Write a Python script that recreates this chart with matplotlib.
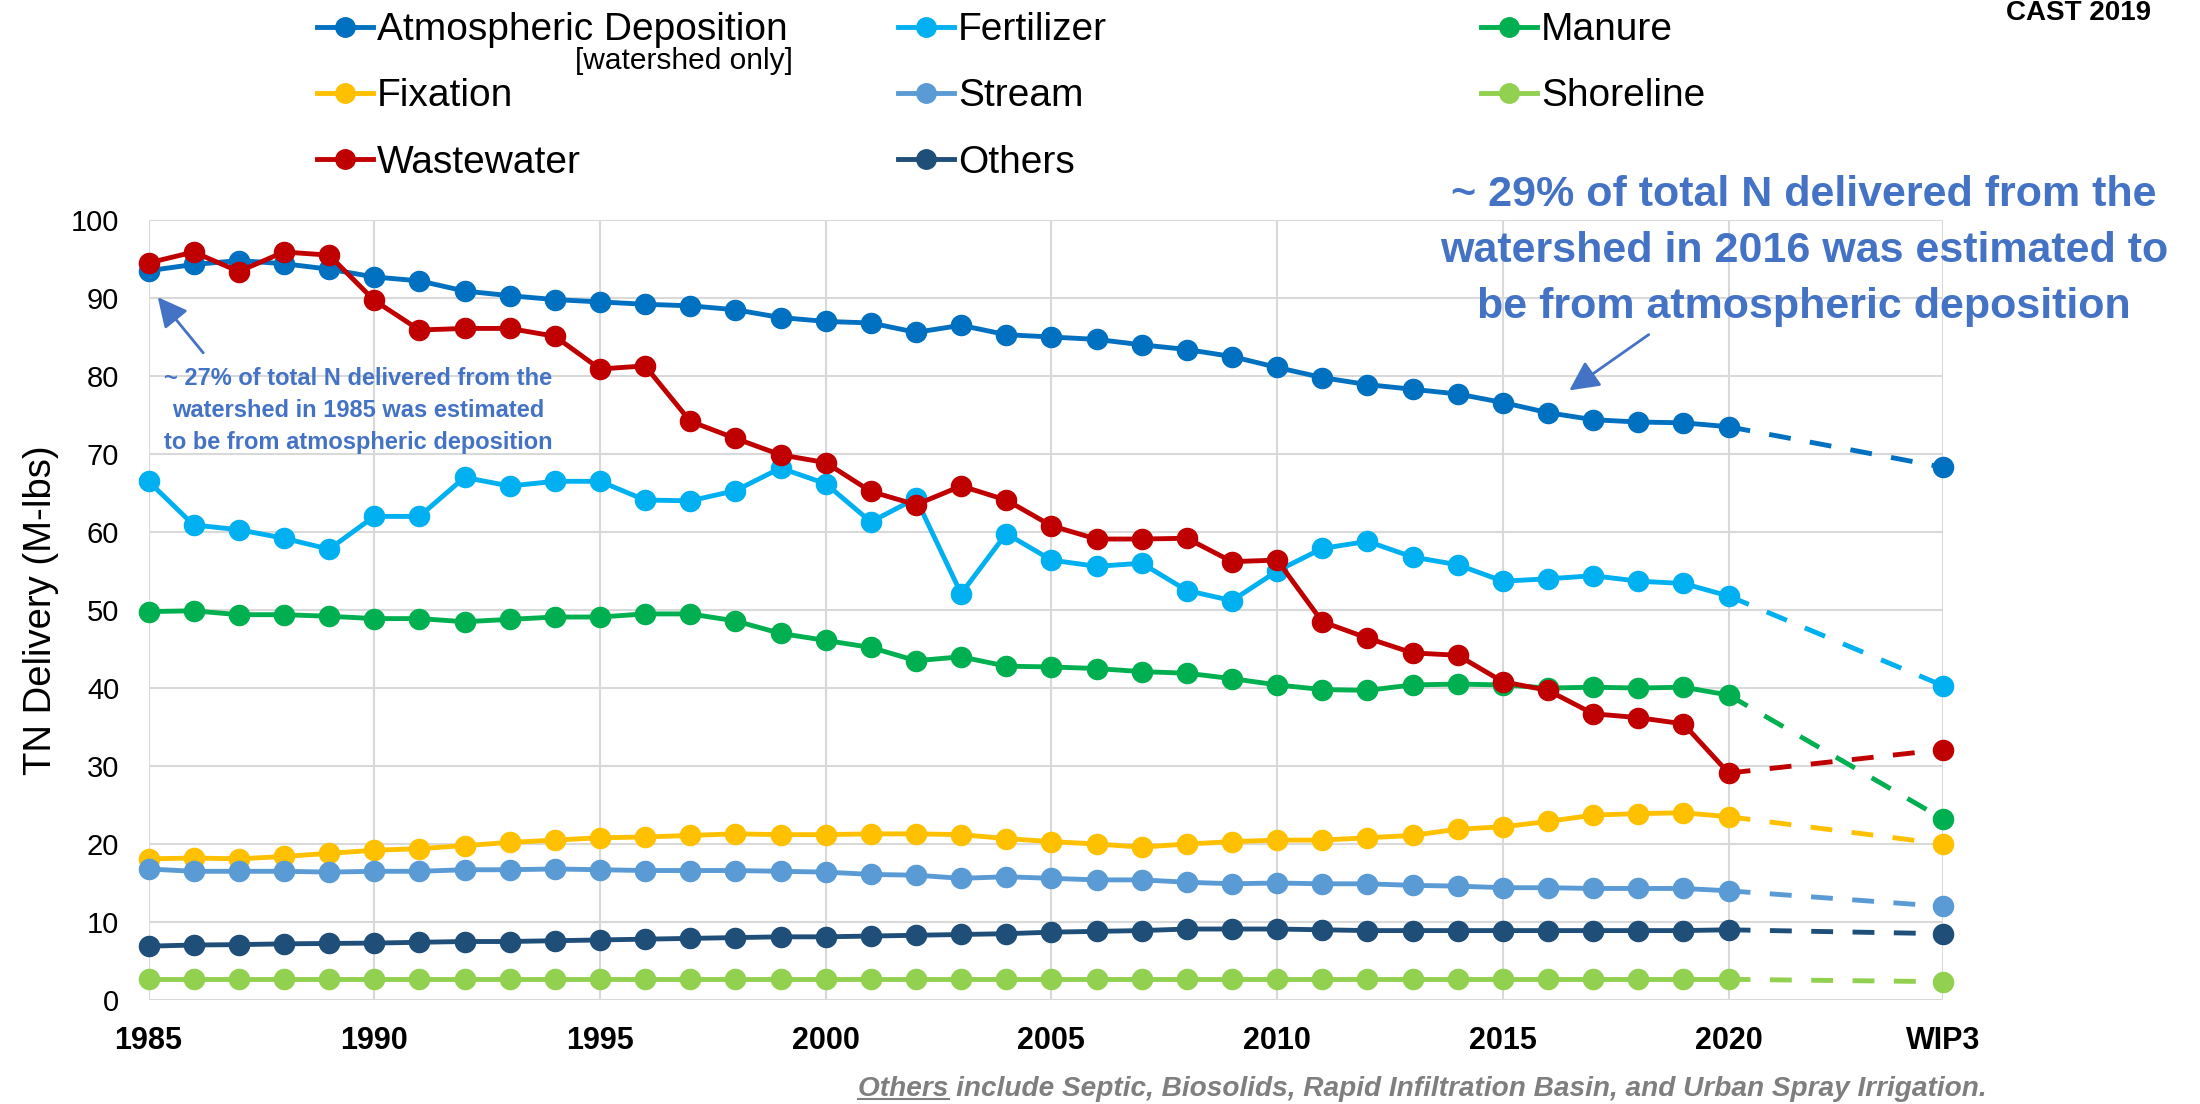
import matplotlib
matplotlib.use('Agg')
import matplotlib.pyplot as plt
from matplotlib.lines import Line2D

plt.rcParams['font.family'] = ['Liberation Sans', 'DejaVu Sans']

# ---- data (M-lbs), 1985-2020 plus the WIP3 target ----
years = list(range(1985, 2021))
WIP3_POS = 2024.75

atmos = [93.5, 94.3, 94.8, 94.4, 93.7, 92.7, 92.2, 90.9, 90.3, 89.8,
         89.5, 89.2, 89.0, 88.5, 87.5, 87.0, 86.8, 85.6, 86.5, 85.3,
         85.0, 84.7, 84.0, 83.4, 82.5, 81.1, 79.8, 78.9, 78.3, 77.7,
         76.6, 75.3, 74.4, 74.1, 74.0, 73.5]
fert = [66.5, 60.9, 60.3, 59.2, 57.8, 62.0, 62.0, 67.0, 65.9, 66.5,
        66.5, 64.1, 64.0, 65.3, 68.2, 66.2, 61.3, 64.3, 52.1, 59.8,
        56.4, 55.6, 56.0, 52.5, 51.2, 55.0, 57.9, 58.8, 56.8, 55.8,
        53.7, 54.0, 54.4, 53.7, 53.4, 51.8]
manure = [49.8, 49.9, 49.4, 49.4, 49.2, 48.9, 48.9, 48.5, 48.8, 49.1,
          49.1, 49.5, 49.5, 48.6, 47.0, 46.1, 45.2, 43.5, 44.0, 42.8,
          42.7, 42.5, 42.1, 41.9, 41.2, 40.4, 39.8, 39.7, 40.4, 40.5,
          40.4, 40.0, 40.1, 40.0, 40.1, 39.1]
fixation = [18.1, 18.2, 18.1, 18.4, 18.8, 19.2, 19.4, 19.8, 20.2, 20.5,
            20.8, 20.9, 21.1, 21.3, 21.2, 21.2, 21.3, 21.3, 21.2, 20.7,
            20.3, 20.0, 19.6, 20.0, 20.3, 20.5, 20.5, 20.8, 21.1, 21.9,
            22.2, 22.9, 23.7, 23.9, 24.0, 23.5]
stream = [16.8, 16.5, 16.5, 16.5, 16.4, 16.5, 16.5, 16.7, 16.7, 16.8,
          16.7, 16.6, 16.6, 16.6, 16.5, 16.4, 16.1, 16.0, 15.6, 15.8,
          15.6, 15.4, 15.4, 15.1, 14.9, 15.0, 14.9, 14.9, 14.7, 14.6,
          14.4, 14.4, 14.3, 14.3, 14.3, 14.0]
shoreline = [2.65] * 36
wastewater = [94.5, 95.9, 93.4, 95.9, 95.5, 89.7, 85.9, 86.1, 86.1, 85.1,
              80.9, 81.3, 74.2, 72.0, 69.9, 68.9, 65.2, 63.5, 65.9, 64.1,
              60.8, 59.1, 59.1, 59.2, 56.2, 56.4, 48.5, 46.4, 44.5, 44.2,
              40.8, 39.7, 36.7, 36.2, 35.4, 29.1]
others = [6.9, 7.05, 7.1, 7.2, 7.25, 7.3, 7.4, 7.5, 7.5, 7.6,
          7.7, 7.8, 7.9, 8.0, 8.1, 8.1, 8.2, 8.3, 8.4, 8.5,
          8.7, 8.8, 8.9, 9.1, 9.1, 9.1, 9.0, 8.9, 8.9, 8.9,
          8.9, 8.9, 8.9, 8.9, 8.9, 9.0]

names = ['Atmospheric Deposition', 'Fertilizer', 'Manure', 'Fixation',
         'Stream', 'Shoreline', 'Wastewater', 'Others']
series = [atmos, fert, manure, fixation, stream, shoreline, wastewater, others]
wip3 = [68.3, 40.3, 23.2, 20.0, 12.0, 2.35, 32.1, 8.5]
colors = ['#0070C0', '#00B0F0', '#00B050', '#FFC000',
          '#5B9BD5', '#92D050', '#C00000', '#1F4E79']

xtick_pos = [1985, 1990, 1995, 2000, 2005, 2010, 2015, 2020, WIP3_POS]
xtick_labels = ['1985', '1990', '1995', '2000', '2005', '2010', '2015', '2020', 'WIP3']

fig = plt.figure(figsize=(22, 11.04), dpi=100)
ax = fig.add_axes([0.0675, 0.0942, 0.8157, 0.7065])

for vals, end, c in zip(series, wip3, colors):
    ax.plot(years, vals, color=c, lw=3.5, marker='o', ms=14.5, clip_on=False, zorder=3)
    ax.plot([years[-1], WIP3_POS], [vals[-1], end], color=c, lw=3.5,
            ls=(0, (4.5, 4)), marker='o', ms=14.5, markevery=[1], clip_on=False, zorder=3)

ax.set_xlim(1985, WIP3_POS)
ax.set_ylim(0, 100)
ax.set_yticks(range(0, 101, 10))
ax.set_xticks(xtick_pos)
ax.set_xticklabels(xtick_labels, fontweight='bold', fontsize=22)
ax.tick_params(axis='y', labelsize=21, length=0, pad=21)
ax.tick_params(axis='x', length=0, pad=19)
ax.grid(True, color='#D9D9D9', lw=1.5)
ax.set_axisbelow(True)
for s in ax.spines.values():
    s.set_visible(False)
ax.set_ylabel('TN Delivery (M-lbs)', fontsize=27.5)
ax.yaxis.set_label_coords(-0.05, 0.5)

# legend: three columns placed separately
handles = [Line2D([], [], color=c, lw=3.5, marker='o', ms=14) for c in colors]
cols = [([0, 3, 6], 0.144), ([1, 4, 7], 0.408), ([2, 5], 0.673)]
for idx, xpos in cols:
    fig.legend([handles[i] for i in idx], [names[i] for i in idx],
               loc='upper left', bbox_to_anchor=(xpos, 0.989), frameon=False,
               fontsize=28, handlelength=1.45, handletextpad=0.1,
               labelspacing=0.78, borderpad=0, borderaxespad=0)
fig.text(793 / 2200, 1 - 61 / 1104, '[watershed only]', fontsize=21.5,
         ha='right', va='center')

fig.text(2078 / 2200, 1 - 13 / 1104, 'CAST 2019', fontsize=20,
         fontweight='bold', ha='center', va='center')

# annotations
blue = '#4472C4'
fig.text(1804 / 2200, 1 - 251 / 1104,
         '~ 29% of total N delivered from the\nwatershed in 2016 was estimated to\nbe from atmospheric deposition',
         fontsize=31, fontweight='bold', color=blue,
         ha='center', va='center', linespacing=1.53)
ax.annotate('', xy=(1567 / 2200, 1 - 392 / 1104), xytext=(1651 / 2200, 1 - 333 / 1104),
            xycoords='figure fraction', textcoords='figure fraction',
            arrowprops=dict(arrowstyle='-|>', color=blue, lw=2, mutation_scale=45))

fig.text(358 / 2200, 1 - 411 / 1104,
         '~ 27% of total N delivered from the\nwatershed in 1985 was estimated\nto be from atmospheric deposition',
         fontsize=17, fontweight='bold', color=blue,
         ha='center', va='center', linespacing=1.5)
ax.annotate('', xy=(156 / 2200, 1 - 295 / 1104), xytext=(205 / 2200, 1 - 355 / 1104),
            xycoords='figure fraction', textcoords='figure fraction',
            arrowprops=dict(arrowstyle='-|>', color=blue, lw=2, mutation_scale=45))

# footer note with underlined "Others"
foot_kw = dict(fontsize=20.2, fontweight='bold', fontstyle='italic', color='#7F7F7F')
foot = fig.text(1987 / 2200, 1 - 1089 / 1104,
                'Others include Septic, Biosolids, Rapid Infiltration Basin, and Urban Spray Irrigation.',
                ha='right', va='center', **foot_kw)
fig.canvas.draw()
r = fig.canvas.get_renderer()
bb = foot.get_window_extent(r)
tmp = fig.text(0, 0, 'Others', **foot_kw)
w = tmp.get_window_extent(r).width
tmp.remove()
W, H = fig.bbox.width, fig.bbox.height
uy = (bb.y0 + 3) / H
fig.add_artist(Line2D([bb.x0 / W, (bb.x0 + w) / W], [uy, uy], color='#7F7F7F', lw=1.5))

fig.savefig('out.png', dpi=100)
